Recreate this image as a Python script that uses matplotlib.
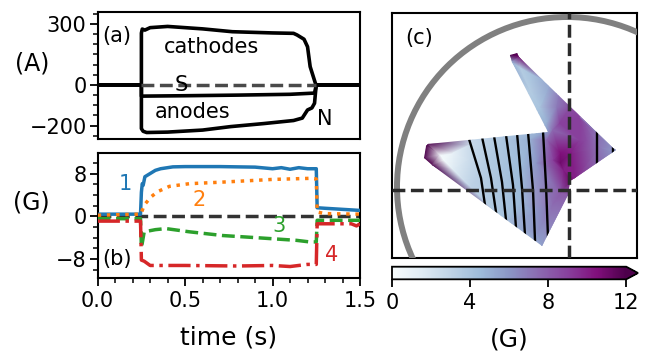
import numpy as np
import matplotlib
matplotlib.use("Agg")
import matplotlib.pyplot as plt
import matplotlib.tri as mtri
from matplotlib.patches import Circle, Polygon
from matplotlib.ticker import MultipleLocator

plt.rcParams.update({
    "font.size": 15,
    "axes.linewidth": 1.5,
    "xtick.major.width": 1.3,
    "ytick.major.width": 1.3,
    "xtick.minor.width": 1.1,
    "ytick.minor.width": 1.1,
    "xtick.major.size": 6,
    "ytick.major.size": 6,
    "xtick.minor.size": 3.5,
    "ytick.minor.size": 3.5,
})

# ---- panel (a): currents (A)
cath_t = [0, 0.25, 0.25, 0.255, 0.27, 0.30, 0.40, 0.60, 0.77, 1.00, 1.12, 1.14, 1.18, 1.20,
          1.215, 1.23, 1.245, 1.25, 1.5]
cath_v = [0, 0, 255, 275, 270, 282, 288, 276, 262, 256, 254, 246, 225, 188, 90, 49, 8, 0, 0]

anod_t = [0, 0.25, 0.25, 0.26, 0.28, 0.40, 0.60, 0.76, 0.95, 1.12, 1.17, 1.20, 1.225, 1.24,
          1.245, 1.25, 1.5]
anod_v = [0, 0, -215, -228, -234, -232, -222, -205, -190, -175, -163, -123, -113, -90, -42, 0, 0]

net_t = [0, 0.25, 0.25, 0.5, 0.8, 1.1, 1.24, 1.25, 1.5]
net_v = [0, 0, -55, -53, -50, -46, -40, 0, 0]

s_t = [0.25, 1.25]
s_v = [0, 0]

# ---- panel (b): probe signals (G)
p1_t = [0, 0.245, 0.25, 0.255, 0.26, 0.27, 0.29, 0.30, 0.33, 0.36, 0.43, 0.5, 0.7, 0.9, 1.0,
        1.05, 1.1, 1.15, 1.2, 1.25, 1.255, 1.3, 1.4, 1.5]
p1_v = [0.4, 0.4, 4.5, 6.1, 5.8, 7.4, 7.8, 8.0, 8.6, 8.9, 9.25, 9.3, 9.3, 9.2, 8.9,
        9.1, 8.8, 9.1, 8.9, 8.9, 1.6, 1.5, 1.3, 1.1]

p2_t = [0, 0.247, 0.266, 0.304, 0.342, 0.41, 0.524, 0.715, 1.0, 1.213, 1.25, 1.255, 1.3, 1.5]
p2_v = [0.2, 0.4, 2.1, 3.6, 4.6, 5.6, 6.1, 6.4, 6.9, 7.1, 7.0, 0.8, 0.5, 0.4]

p3_t = [0, 0.245, 0.25, 0.255, 0.266, 0.33, 0.39, 0.524, 0.715, 0.907, 1.137, 1.213, 1.25,
        1.255, 1.3, 1.5]
p3_v = [-0.45, -0.45, -5.8, -5.0, -2.9, -2.5, -2.3, -2.9, -3.6, -4.0, -4.5, -4.8, -4.8,
        -0.75, -0.75, -0.75]

p4_t = [0, 0.245, 0.25, 0.266, 0.30, 0.5, 0.8, 1.0, 1.1, 1.2, 1.25, 1.255, 1.3, 1.45, 1.48,
        1.5]
p4_v = [-0.9, -0.9, -8.2, -8.4, -9.2, -9.2, -9.3, -9.2, -9.4, -9.0, -9.0, -1.4, -1.4, -1.4,
        -1.8, -1.4]

# ---- panel (c): field map (G)
shape_x = [-59, -52, -50, 44, 47, 44, 6, 1, -1, -27, -137, -145, -143, -141, -21, -57]
shape_y = [135, 137, 133, 42, 40, 38, 12, 9, -5, -56, 25, 32, 44, 46, 58, 128]
shape_b = [13, 13, 11, 6, 6, 6, 10, 11, 8, 5.5, 12, 13, 13, 12, 6, 5]

inner_x = [-49, -39, -39, -29, -22, -19, -9, -12, 1, 11, -9, 18, 31, -9, 3, 11, -16,
           -129, -126, -116, -99, -82, -66, -49, -32, -16, -9, -6, -22, -39, -66, -99,
           -82, -49, -32, -16, -9, -32, -66, -99, -116]
inner_y = [123, 117, 100, 83, 67, 107, 100, 83, 83, 73, 67, 50, 43, 27, 37, 50, 60,
           35, 30, 37, 30, 27, 23, 20, 27, 30, 37, 20, 50, 50, 50, 45,
           3, -13, -23, -13, -3, -43, -30, 3, 20]
inner_b = [3.5, 4, 3.5, 4, 5, 5.5, 7, 7, 8.5, 9, 9, 8.5, 7, 11, 10, 9, 7.5,
           0.3, 0.3, 1, 2.5, 3.5, 4, 4.5, 6, 9, 10.5, 10, 7.5, 5, 3.8, 2.5,
           3.5, 4.5, 6, 7.5, 8, 6, 4, 3, 1.5]

# black lines in the map: top, middle, bottom points
line_x = [[-100, -88, -84], [-87, -78, -73], [-75, -67, -63], [-63, -56, -53],
          [-52, -47, -44], [-41, -36, -34], [-26, -23, -21], [28, 28, 28], [44, 44, 44]]
line_y = [[51, 12, -15], [53, 12, -22], [54, 8, -30], [55, 5, -38],
          [57, 2, -45], [58, 0, -50], [59, 5, -47], [60, 41, 22], [46, 41, 36]]

ring_center = (-2, 3)
ring_radius = 170

fig = plt.figure(figsize=(6.49, 3.52), dpi=100)

# (a)
ax_a = fig.add_axes([0.1505, 0.6051, 0.4042, 0.3608])
ax_a.plot(cath_t, cath_v, color="black", lw=2.6, zorder=3)
ax_a.plot(anod_t, anod_v, color="black", lw=2.6, zorder=3)
ax_a.plot(net_t, net_v, color="black", lw=2.6, zorder=3)
ax_a.plot(s_t, s_v, color="#4a4a4a", lw=2.5, ls="--", zorder=4)
ax_a.set_xlim(0, 1.5)
ax_a.set_ylim(-266, 359)
ax_a.set_yticks([-200, 0, 300])
ax_a.yaxis.set_minor_locator(MultipleLocator(50))
ax_a.set_xticks([])
ax_a.tick_params(axis="y", pad=2)
ax_a.set_ylabel("(A)", rotation=0, fontsize=17, ha="center", va="center")
ax_a.yaxis.set_label_coords(-0.249, 0.598)
ax_a.text(0.11, 241, "(a)", ha="center", va="center")
ax_a.text(0.65, 187, "cathodes", ha="center", va="center")
ax_a.text(0.48, 0, "S", ha="center", va="center", zorder=5)
ax_a.text(0.545, -133, "anodes", ha="center", va="center")
ax_a.text(1.30, -170, "N", ha="center", va="center")

# (b)
ax_b = fig.add_axes([0.1505, 0.2094, 0.4042, 0.3568])
ax_b.axhline(0, color="#333333", lw=2.5, ls="--", zorder=1.5)
ax_b.plot(p1_t, p1_v, color="#1f77b4", lw=2.5, ls="-", zorder=3)
ax_b.plot(p2_t, p2_v, color="#ff7f0e", lw=2.5, ls=":", zorder=3)
ax_b.plot(p3_t, p3_v, color="#2ca02c", lw=2.5, ls="--", zorder=3)
ax_b.plot(p4_t, p4_v, color="#d62728", lw=2.5, ls="-.", zorder=3)
ax_b.set_xlim(0, 1.5)
ax_b.set_ylim(-11.6, 11.9)
ax_b.set_yticks([-8, 0, 8])
ax_b.yaxis.set_minor_locator(MultipleLocator(2))
ax_b.set_xticks([0, 0.5, 1.0, 1.5])
ax_b.xaxis.set_minor_locator(MultipleLocator(0.1))
ax_b.tick_params(axis="y", pad=2)
ax_b.set_xlabel("time (s)", fontsize=18, labelpad=10)
ax_b.set_ylabel("(G)", rotation=0, fontsize=17, ha="center", va="center")
ax_b.yaxis.set_label_coords(-0.253, 0.603)
ax_b.text(0.16, 6.1, "1", color="#1f77b4", ha="center", va="center")
ax_b.text(0.58, 3.0, "2", color="#ff7f0e", ha="center", va="center")
ax_b.text(1.035, -1.9, "3", color="#2ca02c", ha="center", va="center")
ax_b.text(1.337, -7.3, "4", color="#d62728", ha="center", va="center")
ax_b.text(0.11, -7.9, "(b)", ha="center", va="center")

# (c)
ax_c = fig.add_axes([0.604, 0.2679, 0.3775, 0.696])
px = np.array(shape_x + inner_x, dtype=float)
py = np.array(shape_y + inner_y, dtype=float)
pb = np.array(shape_b + inner_b, dtype=float)
tri = mtri.Triangulation(px, py)
field = ax_c.tripcolor(tri, pb, shading="gouraud", cmap="BuPu", vmin=0, vmax=12, zorder=1)
outline = Polygon(np.column_stack([shape_x, shape_y]), closed=True, facecolor="none",
                  edgecolor="none", transform=ax_c.transData)
ax_c.add_patch(outline)
field.set_clip_path(outline)
for xs, ys in zip(line_x, line_y):
    ln, = ax_c.plot(xs, ys, color="black", lw=1.7, zorder=2)
    ln.set_clip_path(outline)

ax_c.add_patch(Circle(ring_center, ring_radius, fill=False, edgecolor="#808080", lw=4.3,
                      zorder=3))
ax_c.axvline(0, color="#2b2b2b", lw=2.5, ls="--", zorder=4)
ax_c.axhline(0, color="#2b2b2b", lw=2.5, ls="--", zorder=4)
ax_c.set_xlim(-177, 68)
ax_c.set_ylim(-67.7, 177.3)
ax_c.set_xticks([])
ax_c.set_yticks([])
ax_c.text(-150, 152, "(c)", ha="center", va="center")

cax = fig.add_axes([0.604, 0.2065, 0.379, 0.0358])
cbar = fig.colorbar(field, cax=cax, orientation="horizontal", extend="max",
                    ticks=[0, 4, 8, 12])
cbar.outline.set_linewidth(1.3)
cbar.set_label("(G)", fontsize=18, labelpad=11)

fig.savefig("out.png", dpi=100)
